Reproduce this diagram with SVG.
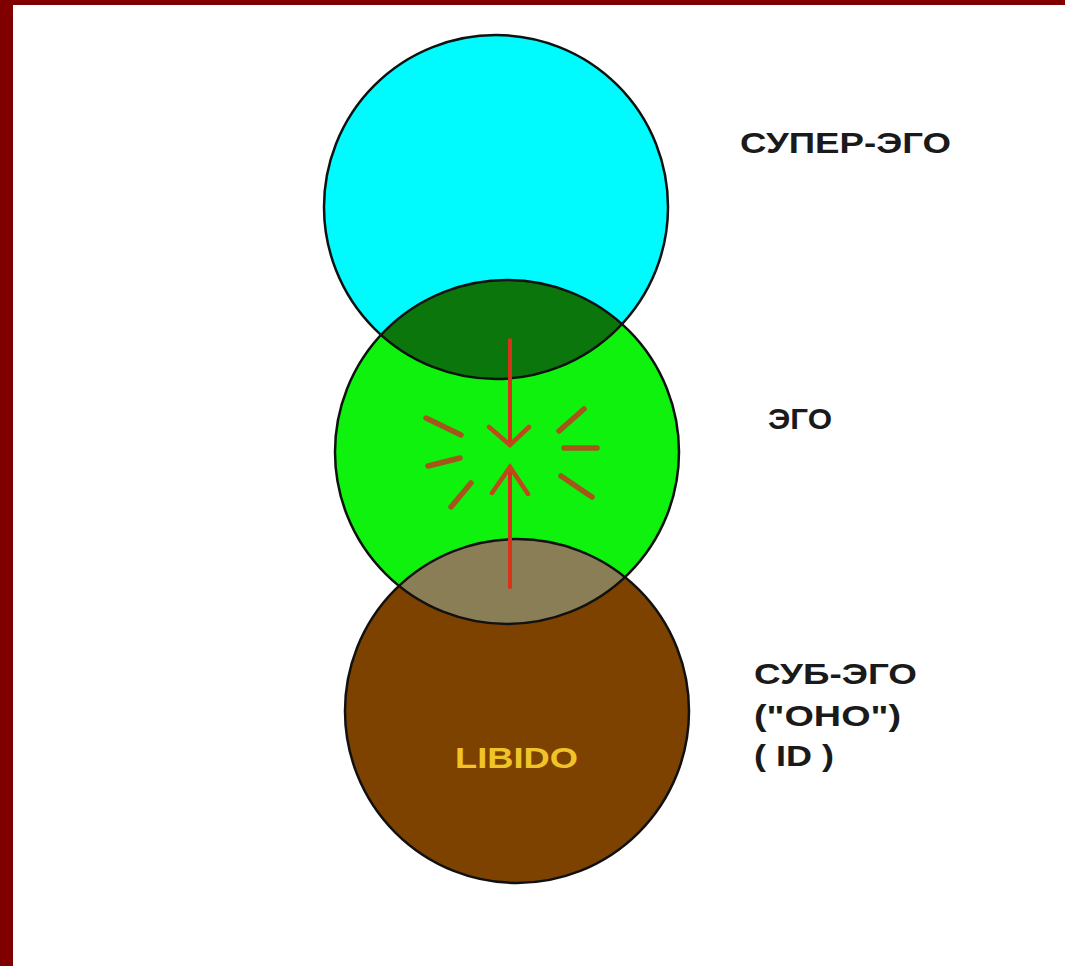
<svg xmlns="http://www.w3.org/2000/svg" width="1065" height="966" viewBox="0 0 1065 966">
  <style>
    .outline { fill: none; stroke: #111; stroke-width: 2.5; }
    .label { font-family: "Liberation Sans", Arial, sans-serif; font-weight: bold; font-size: 30px; fill: #1a1a1a; }
    .libido { font-family: "Liberation Sans", Arial, sans-serif; font-weight: bold; font-size: 30px; fill: #f0c428; }
    .axis { stroke: #d8321a; stroke-width: 4; stroke-linecap: round; fill: none; }
    .head { stroke: #c0481a; stroke-width: 4.5; stroke-linecap: round; fill: none; }
    .burst { stroke: #a4561a; stroke-width: 5.5; stroke-linecap: round; fill: none; }
  </style>
  <defs>
    <clipPath id="clipTop"><circle cx="496" cy="207" r="172"/></clipPath>
    <clipPath id="clipBot"><circle cx="517" cy="711" r="172"/></clipPath>
  </defs>
  <rect x="0" y="0" width="1065" height="966" fill="#ffffff"/>
  <rect x="0" y="0" width="1065" height="5" fill="#800000"/>
  <rect x="0" y="0" width="13" height="966" fill="#800000"/>

  <g id="superego">
    <circle cx="496" cy="207" r="172" fill="#00fbff"/>
  </g>
  <g id="ego">
    <circle cx="507" cy="452" r="172" fill="#0ef20e"/>
  </g>
  <g id="id">
    <circle cx="517" cy="711" r="172" fill="#7e4200"/>
  </g>
  <g id="overlaps">
    <circle cx="507" cy="452" r="172" fill="#0a760c" clip-path="url(#clipTop)"/>
    <circle cx="507" cy="452" r="172" fill="#8a7e56" clip-path="url(#clipBot)"/>
  </g>
  <g id="outlines">
    <circle class="outline" cx="496" cy="207" r="172"/>
    <circle class="outline" cx="507" cy="452" r="172"/>
    <circle class="outline" cx="517" cy="711" r="172"/>
  </g>

  <g id="connectors">
    <line class="axis" x1="510" y1="340" x2="510" y2="445"/>
    <polyline class="head" points="489,427 510,445 529,427"/>
    <line class="axis" x1="510" y1="587" x2="510" y2="467"/>
    <polyline class="head" points="492,493 510,467 528,494"/>
    <line class="burst" x1="426" y1="418" x2="461" y2="435"/>
    <line class="burst" x1="428" y1="466" x2="460" y2="458"/>
    <line class="burst" x1="451" y1="507" x2="471" y2="483"/>
    <line class="burst" x1="559" y1="431" x2="584" y2="409"/>
    <line class="burst" x1="564" y1="448" x2="597" y2="448"/>
    <line class="burst" x1="561" y1="476" x2="592" y2="497"/>
  </g>

  <g id="labels">
    <text class="label" x="740" y="153" textLength="211" lengthAdjust="spacingAndGlyphs">СУПЕР-ЭГО</text>
    <text class="label" x="768" y="429" textLength="64" lengthAdjust="spacingAndGlyphs">ЭГО</text>
    <text class="label" x="754" y="684" textLength="163" lengthAdjust="spacingAndGlyphs">СУБ-ЭГО</text>
    <text class="label" x="754" y="726" textLength="147" lengthAdjust="spacingAndGlyphs">("ОНО")</text>
    <text class="label" x="754" y="766" textLength="80" lengthAdjust="spacingAndGlyphs">( ID )</text>
    <text class="libido" x="455" y="768" textLength="123" lengthAdjust="spacingAndGlyphs">LIBIDO</text>
  </g>
</svg>
